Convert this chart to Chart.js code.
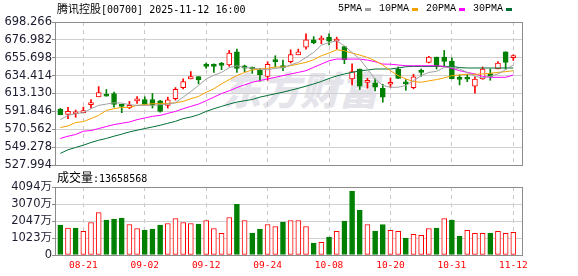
<!DOCTYPE html>
<html>
<head>
<meta charset="utf-8">
<script src="https://cdn.jsdelivr.net/npm/chart.js@4.4.1/dist/chart.umd.min.js"></script>
<style>
  html, body { margin:0; padding:0; background:#fff; }
  #wrap { position:relative; width:578px; height:276px; overflow:hidden; }
  canvas { position:absolute; left:0; }
  #priceCanvas { top:0; z-index:2; }
  #volCanvas { top:170px; z-index:1; }
  .cjk { font-family:"Noto Sans CJK SC", sans-serif; }
  .mono { font-family:"DejaVu Sans Mono", monospace; font-size:10px; }
  #title { position:absolute; left:57px; top:1px; font-size:11px; line-height:14px; color:#000; white-space:nowrap; z-index:3; }
  #legend { position:absolute; left:338px; top:2px; line-height:14px; white-space:nowrap; z-index:3; display:flex; align-items:center; }
  #legend .item { display:flex; align-items:center; margin-right:8px; }
  #legend .lt { font-family:"Liberation Mono", monospace; font-size:10px; color:#000; }
  #legend .box { display:inline-block; width:6px; height:3px; margin-left:3px; margin-top:1px; }
  #vlabel { position:absolute; left:57px; top:170px; font-size:12px; line-height:14px; color:#000; white-space:nowrap; z-index:3; }
  #watermark { position:absolute; left:222px; top:66px; font-family:"Noto Sans CJK SC", sans-serif; font-weight:900; font-size:39px; line-height:44px; color:#e4e4ea; z-index:0; letter-spacing:0px; font-style:italic; }
</style>
</head>
<body>
<div id="wrap">
  <div id="watermark">东方财富</div>
  <canvas id="priceCanvas" width="578" height="180"></canvas>
  <canvas id="volCanvas" width="578" height="106"></canvas>
  <div id="title"><span class="cjk">腾讯控股</span><span class="mono">[00700] 2025-11-12 16:00</span></div>
  <div id="legend"></div>
  <div id="vlabel"><span class="cjk">成交量</span><span class="mono" id="vnum"></span></div>
</div>
<script>
// ---------------- DATA ----------------
const dates = ['08-18','08-19','08-20','08-21','08-22','08-25','08-26','08-27','08-28','08-29',
  '09-01','09-02','09-03','09-04','09-05','09-08','09-09','09-10','09-11','09-12',
  '09-15','09-16','09-17','09-18','09-19','09-22','09-23','09-24','09-25','09-26',
  '09-29','09-30','10-02','10-03','10-06','10-08','10-09','10-10','10-13','10-14',
  '10-15','10-16','10-17','10-20','10-21','10-22','10-23','10-24','10-27','10-28',
  '10-30','10-31','11-03','11-04','11-05','11-06','11-07','11-10','11-11','11-12'];
const tickDates = ['08-21','09-02','09-12','09-24','10-08','10-20','10-31','11-12'];

const open  = [594.2,588.3,589.0,590.3,599.9,609.2,611.9,613.1,598.1,596.3,
  604.3,606.0,606.0,604.5,599.0,606.9,620.2,630.5,633.2,645.6,
  645.7,646.8,647.1,662.8,646.2,642.5,640.7,633.6,651.2,644.1,
  651.0,659.2,668.4,677.0,676.8,680.2,675.4,669.1,630.5,642.3,
  626.3,625.8,619.4,624.1,642.3,624.8,620.2,638.5,650.2,656.5,
  656.5,651.8,630.2,630.5,621.8,630.5,636.8,642.3,662.8,655.8];
const high  = [595.4,596.6,593.4,596.9,606.0,621.4,617.9,614.7,599.8,603.7,
  609.6,609.2,613.1,605.0,608.8,620.2,630.5,639.1,633.2,649.4,
  648.6,650.2,664.4,666.0,647.0,644.7,643.1,651.0,658.1,652.9,
  665.2,666.0,684.1,680.9,681.7,684.1,680.2,669.1,648.6,642.3,
  631.2,630.5,624.1,631.7,644.7,629.7,636.0,642.3,657.5,656.5,
  664.4,655.7,635.2,636.0,632.9,644.7,642.3,651.0,662.8,659.2];
const low   = [587.8,583.2,584.8,590.3,595.7,609.2,609.9,596.9,590.3,595.0,
  601.3,600.1,595.8,591.0,595.8,605.2,618.7,630.5,624.6,643.1,
  638.3,641.5,645.4,638.3,639.1,637.1,627.7,628.9,644.7,640.3,
  649.4,659.2,666.0,672.3,672.3,671.1,666.0,648.6,623.4,617.9,
  619.4,616.3,602.8,620.2,631.2,617.0,618.7,633.6,649.5,642.3,
  645.4,630.5,623.4,627.3,613.5,630.0,628.9,642.3,642.3,652.5];
const close = [588.0,591.9,589.2,592.2,600.1,614.3,609.9,600.1,597.8,599.0,
  604.5,600.1,599.3,591.9,605.7,618.2,627.3,633.2,629.7,645.4,
  645.5,646.6,661.3,643.1,643.3,642.3,635.6,647.9,651.0,643.9,
  659.6,662.8,677.0,673.8,677.0,675.4,675.6,653.3,639.1,621.8,
  626.5,620.6,608.8,626.5,631.2,624.6,632.9,638.3,656.5,646.2,
  651.4,630.8,630.0,630.3,630.4,642.3,633.6,649.4,650.2,656.0];
const prevClose = 594.0;

const ma5  = [582.0,587.1,589.1,590.3,595.0,599.0,600.5,602.1,601.7,599.8,
  599.0,599.0,599.0,599.8,600.5,602.1,608.8,615.5,622.6,630.5,
  634.8,638.3,643.9,646.2,643.9,643.5,642.3,641.5,643.1,643.9,
  647.1,650.2,656.1,662.0,670.7,673.8,675.8,669.9,662.0,654.1,
  642.3,630.5,622.6,620.6,620.6,622.6,628.5,634.4,638.3,639.5,
  644.3,644.3,642.3,638.3,633.6,631.7,633.6,636.4,641.5,647.1];
const ma10 = [572.6,574.5,578.5,579.7,583.2,587.1,593.0,595.0,596.6,596.6,
  599.0,599.8,601.0,601.0,601.4,602.1,603.7,606.9,609.6,614.7,
  618.7,624.6,629.7,634.4,638.3,641.1,642.3,643.1,644.7,644.7,
  646.2,648.2,650.2,653.3,658.1,661.3,665.2,664.0,661.3,658.9,
  656.1,652.1,647.1,640.3,634.4,630.5,627.3,626.5,628.2,629.7,
  631.7,634.4,635.2,636.0,636.0,636.4,637.2,638.3,639.1,640.3];
const ma20 = [559.6,562.3,564.3,568.2,569.0,571.4,573.8,576.1,577.7,579.2,
  582.0,584.0,585.9,587.1,589.5,591.8,595.0,597.8,600.5,604.5,
  608.8,613.1,616.3,620.2,623.4,626.5,628.5,630.5,632.4,634.4,
  636.4,638.3,640.3,644.3,648.2,652.1,654.1,654.1,654.1,654.1,
  652.9,651.0,648.2,648.0,647.1,646.2,646.2,646.2,646.2,646.2,
  645.4,643.1,640.3,638.3,636.4,633.6,632.4,632.4,632.4,635.2];
const ma30 = [541.8,546.1,548.9,551.6,554.8,557.5,559.6,562.3,564.7,567.4,
  569.4,571.4,573.3,575.3,577.7,580.0,583.2,585.1,587.9,591.8,
  595.0,597.8,600.5,602.9,604.5,606.0,608.8,610.8,612.8,614.7,
  617.0,619.3,621.8,624.5,627.5,631.0,634.0,636.4,638.3,640.0,
  641.1,642.3,642.3,642.3,643.5,645.0,645.4,645.4,645.4,645.4,
  645.4,645.4,644.0,643.5,643.5,643.5,643.5,643.5,643.5,643.5];

// volume in 万 (10k shares)
const volume = [1797,1618,1618,1418,1957,2556,2097,2157,2217,1837,
  1598,1498,1558,1797,1897,2197,1957,1897,1857,2077,
  1598,1298,2257,3055,2077,1318,1558,1837,1718,1977,
  2077,2077,1718,719,759,1078,1418,2037,3834,2696,
  1837,1438,1837,1478,1418,1019,1238,1178,1598,1618,
  2197,2097,1138,1478,1298,1298,1318,1418,1298,1365.8568];

const priceTicks = [527.994,549.278,570.562,591.846,613.130,634.414,655.698,676.982,698.266];
const volumeTicks = [0,1023.5,2047,3070.5,4094];
const volumeTickLabels = ['0','1023万','2047万','3070万','4094万'];

const maNames = ['5PMA','10PMA','20PMA','30PMA'];
const maSeries = [ma5, ma10, ma20, ma30];

// ---------------- STYLE ----------------
const RED = '#ff0000', GREEN = '#008000';
const maColors = ['#a0a0a0','#f5a300','#ff00ff','#006f35'];
const X_MIN = -0.69, X_MAX = 60.13;
const GRID_H = '#d0d0d0', GRID_V = '#c8c8c8', FRAME = '#8c8c8c';

const idx = dates.map((d, i) => i);
const tickIdx = tickDates.map(d => dates.indexOf(d));
const up = close.map((c, i) => c >= open[i]);
const volUp = close.map((c, i) => c >= (i ? close[i - 1] : prevClose));

const framePlugin = {
  id: 'frame',
  afterDraw(chart) {
    const { ctx, chartArea: a } = chart;
    ctx.save();
    ctx.strokeStyle = FRAME;
    ctx.lineWidth = 1;
    ctx.strokeRect(Math.round(a.left) + 0.5, Math.round(a.top) + 0.5,
      Math.round(a.right - a.left), Math.round(a.bottom - a.top));
    ctx.restore();
  }
};

const xScaleBase = {
  type: 'linear', min: X_MIN, max: X_MAX, offset: false,
  afterBuildTicks: s => { s.ticks = tickIdx.map(v => ({ value: v })); },
  grid: { color: GRID_V, lineWidth: 1, drawTicks: false, offset: false },
  border: { display: false, dash: [4, 4] }
};

// ---------------- PRICE CHART ----------------
const priceChart = new Chart(document.getElementById('priceCanvas'), {
  type: 'bar',
  data: {
    datasets: [
      ...maSeries.map((s, k) => ({
        type: 'line', label: maNames[k],
        data: idx.map(i => ({ x: i, y: s[i] })),
        borderColor: maColors[k], backgroundColor: maColors[k],
        borderWidth: 1, pointRadius: 0, tension: 0, order: 0
      })),
      {
        type: 'bar', label: 'body',
        data: idx.map(i => ({ x: i, y: [open[i], close[i]] })),
        backgroundColor: idx.map(i => up[i] ? '#ffffff' : GREEN),
        borderColor: idx.map(i => up[i] ? RED : GREEN),
        borderWidth: 1, borderSkipped: false, barThickness: 5, minBarLength: 2,
        grouped: false, order: 1
      },
      {
        type: 'bar', label: 'wick',
        data: idx.map(i => ({ x: i, y: [low[i], high[i]] })),
        backgroundColor: idx.map(i => up[i] ? RED : GREEN),
        borderWidth: 0, barThickness: 1, grouped: false, order: 2
      }
    ]
  },
  options: {
    responsive: false, animation: false, devicePixelRatio: 1,
    layout: { padding: { left: 0, right: 56, top: 22, bottom: 15 } },
    plugins: { legend: { display: false }, tooltip: { enabled: false }, title: { display: false } },
    scales: {
      x: Object.assign({}, xScaleBase, {
        ticks: { display: false },
        afterFit: s => { s.height = 0; }
      }),
      y: {
        type: 'linear', min: priceTicks[0], max: priceTicks[priceTicks.length - 1],
        afterBuildTicks: s => { s.ticks = priceTicks.map(v => ({ value: v })); },
        ticks: { callback: v => v.toFixed(3), color: '#1c1c30', padding: 0,
          font: { family: 'DejaVu Sans', size: 11.5 } },
        grid: { color: GRID_H, tickColor: FRAME, tickLength: 3, lineWidth: 1 },
        border: { display: false },
        afterFit: s => { s.width = 55; }
      }
    }
  },
  plugins: [framePlugin]
});

// ---------------- VOLUME CHART ----------------
const volChart = new Chart(document.getElementById('volCanvas'), {
  type: 'bar',
  data: {
    datasets: [{
      label: '成交量',
      data: idx.map(i => ({ x: i, y: volume[i] })),
      backgroundColor: idx.map(i => volUp[i] ? '#ffffff' : GREEN),
      borderColor: idx.map(i => volUp[i] ? RED : GREEN),
      borderWidth: 1, borderSkipped: false, barThickness: 5, grouped: false
    }]
  },
  options: {
    responsive: false, animation: false, devicePixelRatio: 1,
    layout: { padding: { left: 0, right: 56, top: 17, bottom: 0 } },
    plugins: { legend: { display: false }, tooltip: { enabled: false } },
    scales: {
      x: Object.assign({}, xScaleBase, {
        ticks: { display: true, autoSkip: false, maxRotation: 0, padding: 5, color: RED,
          callback: v => dates[v], font: { family: 'DejaVu Sans Mono', size: 9.5 } },
        afterFit: s => { s.height = 21; }
      }),
      y: {
        type: 'linear', min: volumeTicks[0], max: volumeTicks[volumeTicks.length - 1],
        afterBuildTicks: s => { s.ticks = volumeTicks.map(v => ({ value: v })); },
        ticks: { callback: (v, i) => volumeTickLabels[i], color: '#1c1c30', padding: 0,
          font: { family: "'DejaVu Sans', 'Noto Sans CJK SC'", size: 11.5 } },
        grid: { color: GRID_H, tickColor: FRAME, tickLength: 3, lineWidth: 1 },
        border: { display: false },
        afterFit: s => { s.width = 55; }
      }
    }
  },
  plugins: [framePlugin]
});

// ---------------- HTML legend / labels ----------------
const legend = document.getElementById('legend');
priceChart.data.datasets.filter(d => d.type === 'line').forEach(d => {
  const item = document.createElement('span');
  item.className = 'item';
  const t = document.createElement('span'); t.className = 'lt'; t.textContent = d.label;
  const b = document.createElement('span'); b.className = 'box'; b.style.background = d.borderColor;
  item.appendChild(t); item.appendChild(b);
  legend.appendChild(item);
});
document.getElementById('vnum').textContent = ':' + Math.round(volume[volume.length - 1] * 10000);
</script>
</body>
</html>
